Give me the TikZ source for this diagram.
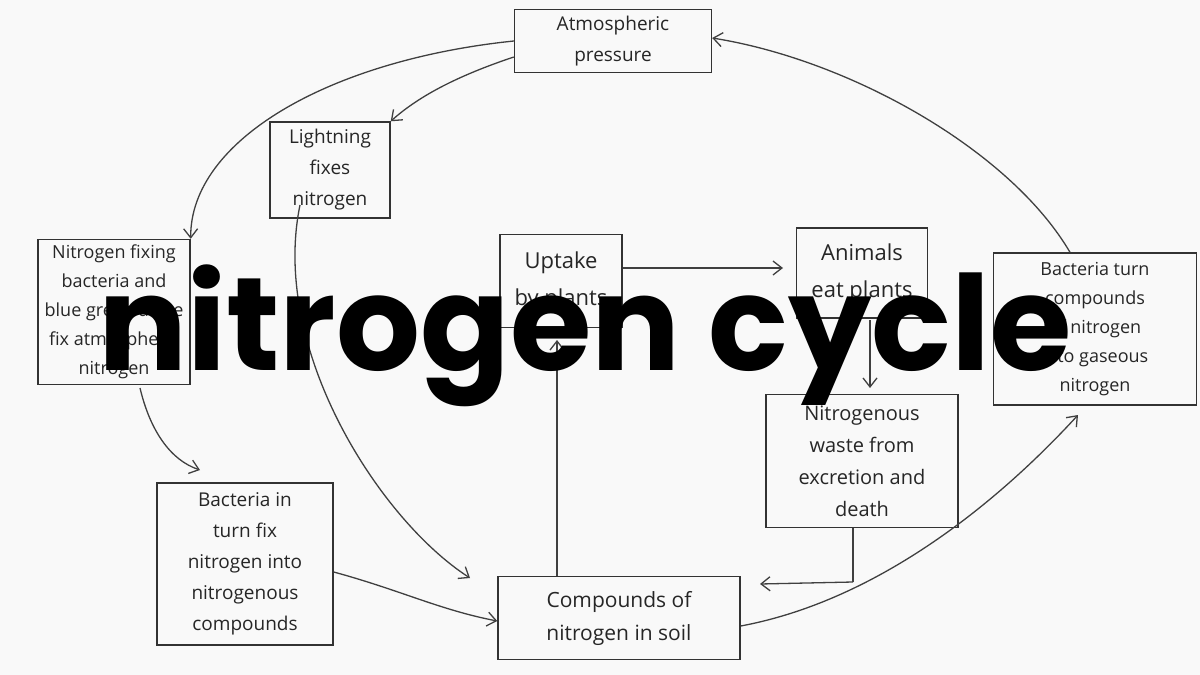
\documentclass[tikz,border=0pt]{standalone}
\usepackage{fontspec}
\setmainfont{Open Sans}
\newfontfamily\titlefont{Poppins}
\usetikzlibrary{arrows.meta}
\begin{document}
\begin{tikzpicture}[x=1pt,y=-1pt,
  bx/.style={draw=black!80,line width=1.4pt,align=center,font=\fontsize{19}{31}\selectfont,inner sep=0pt,text=black!85},
  ar/.style={draw=black!75,line width=1.3pt,-{Straight Barb[length=9pt,width=14pt]}}]
\fill[white!95!gray] (0,0) rectangle (1200,675);
\useasboundingbox (0,0) rectangle (1200,675);
\node[bx,minimum width=197,minimum height=63] (atm) at (613,41) {Atmospheric\\pressure};
\node[bx,minimum width=120,minimum height=96] (lig) at (330,170) {Lightning\\fixes\\nitrogen};
\node[bx,minimum width=152,minimum height=145,font=\fontsize{18}{29}\selectfont] (nfb) at (114,312) {Nitrogen fixing\\bacteria and\\blue green algae\\fix atmospheric\\nitrogen};
\node[bx,minimum width=122,minimum height=93,font=\fontsize{22}{37}\selectfont] (upt) at (561,281) {Uptake\\by plants};
\node[bx,minimum width=131,minimum height=90,font=\fontsize{22}{37}\selectfont] (ani) at (862,273) {Animals\\eat plants};
\node[bx,minimum width=203,minimum height=152,font=\fontsize{18}{29}\selectfont] (btg) at (1095,329) {Bacteria turn\\compounds\\of nitrogen\\into gaseous\\nitrogen};
\node[bx,minimum width=192,minimum height=133,font=\fontsize{20}{32}\selectfont] (nws) at (862,461) {Nitrogenous\\waste from\\excretion and\\death};
\node[bx,minimum width=176,minimum height=162] (bif) at (245,564) {Bacteria in\\turn fix\\nitrogen into\\nitrogenous\\compounds};
\node[bx,minimum width=242,minimum height=83,font=\fontsize{21}{33}\selectfont] (soil) at (619,618) {Compounds of\\nitrogen in soil};
\coordinate (wc) at (853,582);
\coordinate (wend) at (760,584);
\coordinate (nfs) at (140,388);
\coordinate (bift) at (200,470);
\coordinate (upb) at (557,340);
\coordinate (anb) at (870,320);
\coordinate (nwt) at (870,388);
\draw[ar] (atm.west) .. controls (330,60) and (190,140) .. (nfb.north east);
\draw[ar] ([yshift=-16pt]atm.west) .. controls (460,75) and (420,95) .. (lig.north east);
\draw[ar] (300,205) .. controls (270,350) and (380,520) .. (470,578);
\draw[ar] (nfs) .. controls (150,430) and (170,460) .. (bift);
\draw[ar] ([yshift=-8pt]bif.east) .. controls (400,590) and (440,610) .. ([yshift=-3pt]soil.west);
\draw[ar] ([xshift=-62pt]soil.north) -- (upb);
\draw[ar] ([yshift=13pt]upt.east) -- (783,268);
\draw[ar] (anb) -- (nwt);
\draw[line width=1.3pt,black!75] ([xshift=-9pt]nws.south) -- (wc);
\draw[ar] (wc) -- (wend);
\draw[ar] ([yshift=-8pt]soil.east) .. controls (880,600) and (1000,500) .. (1078,415);
\draw[ar] ([xshift=-25pt]btg.north) .. controls (1010,150) and (850,60) .. ([yshift=3pt]atm.east);
\node[font=\titlefont\bfseries\fontsize{132}{132}\selectfont,inner sep=0pt,anchor=base] (ttl) at (585,370) {nitrogen cycle};
\end{tikzpicture}
\end{document}
